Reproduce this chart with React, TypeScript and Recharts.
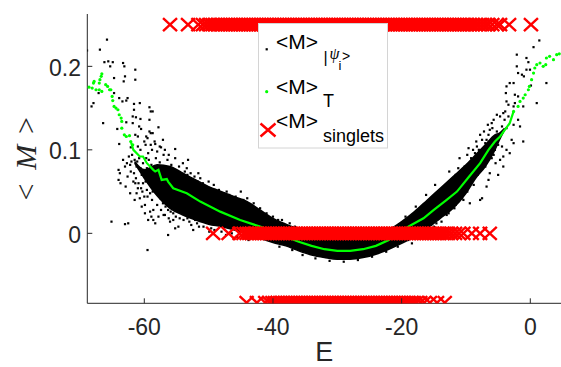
import React from "react";
import { ComposedChart, Area, Scatter, XAxis, YAxis } from "recharts";

// energies of the singlet states, one list per row of crosses
const singletTopE = [
  -56.0, -53.2, -51.6, -50.9, -50.4, -49.9, -49.4, -49.0, -48.6, -48.2, -47.8, -47.4, -47.0,
  -46.6, -46.2, -45.8, -45.4, -45.0, -44.6, -44.2, -43.8, -43.4, -43.0, -42.6, -42.2, -41.8,
  -41.4, -41.0, -40.6, -40.2, -39.8, -39.4, -39.0, -38.6, -38.2, -37.8, -37.4, -37.0, -36.6,
  -36.2, -35.8, -35.4, -35.0, -34.6, -34.2, -33.8, -33.4, -33.0, -32.6, -32.2, -31.8, -31.4,
  -31.0, -30.6, -30.2, -29.8, -29.4, -29.0, -28.6, -28.2, -27.8, -27.4, -27.0, -26.6, -26.2,
  -25.8, -25.4, -25.0, -24.6, -24.2, -23.8, -23.4, -23.0, -22.6, -22.2, -21.8, -21.4, -21.0,
  -20.6, -20.2, -19.8, -19.4, -19.0, -18.6, -18.2, -17.8, -17.4, -17.0, -16.6, -16.2, -15.8,
  -15.4, -15.0, -14.6, -14.2, -13.8, -13.4, -13.0, -12.6, -12.2, -11.8, -11.4, -11.0, -10.6,
  -10.2, -9.8, -9.4, -9.0, -8.5, -8.0, -7.5, -7.0, -6.5, -5.9, -5.2, -4.7, -3.3, 0.1,
];
const singletMidE = [
  -49.3, -46.9, -45.2, -44.6, -44.1, -43.7, -43.3, -42.9, -42.5, -42.1, -41.7, -41.3, -40.9,
  -40.5, -40.1, -39.7, -39.3, -38.9, -38.5, -38.1, -37.7, -37.3, -36.9, -36.5, -36.1, -35.7,
  -35.3, -34.9, -34.5, -34.1, -33.7, -33.3, -32.9, -32.5, -32.1, -31.7, -31.3, -30.9, -30.5,
  -30.1, -29.7, -29.3, -28.9, -28.5, -28.1, -27.7, -27.3, -26.9, -26.5, -26.1, -25.7, -25.3,
  -24.9, -24.5, -24.1, -23.7, -23.3, -22.9, -22.5, -22.1, -21.7, -21.3, -20.9, -20.5, -20.1,
  -19.7, -19.3, -18.9, -18.5, -18.1, -17.7, -17.3, -16.9, -16.5, -16.1, -15.7, -15.3, -14.9,
  -14.5, -14.1, -13.7, -13.3, -12.8, -12.3, -11.7, -11.1, -10.4, -9.1, -7.8, -6.3,
];
const singletLowE = [
  -44.1, -42.5, -41.2, -40.6, -40.1, -39.7, -39.3, -38.9, -38.5, -38.1, -37.7, -37.3, -36.9,
  -36.5, -36.1, -35.7, -35.3, -34.9, -34.5, -34.1, -33.7, -33.3, -32.9, -32.5, -32.1, -31.7,
  -31.3, -30.9, -30.5, -30.1, -29.7, -29.3, -28.9, -28.5, -28.1, -27.7, -27.3, -26.9, -26.5,
  -26.1, -25.7, -25.3, -24.9, -24.5, -24.1, -23.7, -23.3, -22.9, -22.5, -22.1, -21.7, -21.3,
  -20.9, -20.5, -20.1, -19.7, -19.3, -18.9, -18.5, -18.1, -17.7, -17.1, -16.5, -15.6, -14.5, -13.3,
];
const singletM = [0.25, 0, -0.083];

// <M> of single eigenstates, sparse points
const stateDots: [number, number][] = [
  [-68.9, 0.219], [-66.9, 0.22], [-65.8, 0.232], [-66.2, 0.205], [-65.6, 0.206], [-64.9, 0.205],
  [-65.3, 0.2], [-63.3, 0.204], [-63.1, 0.2], [-61.4, 0.196], [-64.7, 0.186], [-63.0, 0.188],
  [-63.2, 0.182], [-61.4, 0.184], [-67.1, 0.168], [-64.7, 0.168], [-67.9, 0.156], [-68.2, 0.152],
  [-63.9, 0.162], [-63.4, 0.158], [-62.8, 0.159], [-62.6, 0.162], [-61.6, 0.155], [-60.7, 0.156],
  [-61.6, 0.148], [-59.2, 0.151], [-59.0, 0.146], [-58.7, 0.146], [-61.8, 0.14], [-61.3, 0.139],
  [-60.6, 0.137], [-59.2, 0.136], [-62.8, 0.133], [-61.8, 0.132], [-66.4, 0.132], [-57.8, 0.127],
  [-64.2, 0.125], [-60.8, 0.128], [-60.5, 0.125], [-59.2, 0.122], [-59.0, 0.12], [-58.7, 0.12],
  [-61.4, 0.118], [-61.0, 0.116], [-59.7, 0.116], [-59.5, 0.114], [-57.1, 0.112], [-63.9, 0.107],
  [-60.0, 0.11], [-59.8, 0.106], [-58.4, 0.11], [-58.3, 0.107], [-59.0, 0.106], [-57.4, 0.103],
  [-55.2, 0.101], [-62.1, 0.103], [-61.0, 0.104],
  [-65.1, 0.014], [-63.0, 0.011], [-62.5, 0.012], [-59.5, -0.02], [-56.3, -0.002], [-64.0, 0.076],
  [-63.8, 0.072], [-64.0, 0.064], [-63.7, 0.06], [-62.2, 0.048], [-63.0, 0.08], [-62.7, 0.084],
  [-62.2, 0.082], [-62.0, 0.086], [-61.7, 0.062], [-61.4, 0.06], [-59.4, 0.016], [-58.6, 0.016],
  [-58.3, 0.012], [-60.4, 0.032], [-59.9, 0.034], [-59.1, 0.026], [-58.6, 0.028], [-57.8, 0.02],
  [-57.0, 0.022], [-56.0, 0.014], [-55.5, 0.016], [-54.7, 0.008], [-55.2, 0.006], [-52.4, 0.004],
  [-53.2, 0.088], [-51.6, 0.072], [-57.6, 0.104], [-56.8, 0.1], [-60.2, 0.06], [-59.6, 0.052],
  [-59.1, 0.048], [-61.2, 0.048], [-60.7, 0.042],
  [-58.2, 0.09], [-57.6, 0.085], [-57.0, 0.094], [-56.4, 0.088], [-55.8, 0.082], [-55.2, 0.09],
  [-54.6, 0.08], [-54.0, 0.084], [-53.4, 0.078], [-52.8, 0.072], [-52.2, 0.068], [-57.8, 0.06],
  [-57.2, 0.052], [-56.6, 0.046], [-56.0, 0.04], [-55.4, 0.036], [-54.8, 0.03], [-54.2, 0.026],
  [-53.6, 0.022], [-59.0, 0.07], [-58.6, 0.064], [-59.6, 0.078], [-60.2, 0.084], [-60.8, 0.09],
  [-61.2, 0.08], [-61.6, 0.072], [-62.6, 0.068], [-60.4, 0.07], [-59.8, 0.062], [-58.8, 0.04],
  [-58.0, 0.034], [-57.4, 0.028], [-56.8, 0.022], [-56.2, 0.018], [-60.0, 0.044], [-61.0, 0.054],
  [-60.6, 0.1], [-59.4, 0.096], [-58.8, 0.1], [-58.0, 0.098], [-56.2, 0.094], [-55.0, 0.074],
  [-53.8, 0.066], [-52.6, 0.06], [-51.4, 0.056], [-50.6, 0.05], [-50.0, 0.062], [-49.2, 0.058],
  [-48.4, 0.052], [-47.6, 0.048], [-46.8, 0.046], [-51.8, 0.012], [-50.8, 0.008], [-49.6, 0.006],
  [-48.0, 0.002], [-46.4, 0.0], [-53.0, 0.014], [-45.0, 0.05], [-44.0, 0.042], [-43.0, 0.036],
  [-42.0, 0.03], [-41.0, 0.024], [-40.0, 0.02], [-38.6, 0.016], [-37.4, 0.012], [-45.6, -0.004],
  [-43.8, -0.008],
  [-62.4, 0.092], [-61.9, 0.094], [-61.5, 0.088], [-61.1, 0.086], [-60.6, 0.078], [-60.1, 0.076],
  [-59.7, 0.09], [-59.3, 0.088], [-58.9, 0.082], [-58.5, 0.078], [-58.1, 0.072], [-57.7, 0.07],
  [-57.3, 0.078], [-56.9, 0.08], [-56.5, 0.074], [-56.1, 0.07], [-55.7, 0.066], [-55.3, 0.062],
  [-54.9, 0.058], [-54.5, 0.064], [-54.1, 0.07], [-53.7, 0.074], [-53.3, 0.07], [-52.9, 0.064],
  [-52.5, 0.052], [-52.1, 0.048], [-51.7, 0.062], [-51.3, 0.066], [-50.9, 0.06], [-50.5, 0.056],
  [-60.3, 0.05], [-59.5, 0.044], [-58.7, 0.05], [-58.3, 0.056], [-57.5, 0.042], [-57.1, 0.036],
  [-56.7, 0.032], [-56.3, 0.028], [-55.9, 0.026], [-55.5, 0.024], [-55.1, 0.02], [-54.5, 0.018],
  [-53.9, 0.016], [-53.3, 0.018], [-52.7, 0.01], [-52.1, 0.016], [-51.5, 0.008], [-49.9, 0.002],
  [-49.1, 0.004], [-47.3, -0.002], [-59.9, 0.024], [-58.9, 0.02], [-61.5, 0.04], [-62.9, 0.056],
  [-63.3, 0.088], [-62.1, 0.074], [-61.3, 0.066], [-60.9, 0.06], [-60.5, 0.054],
  [-49.0, 0.052], [-47.2, 0.05], [-45.8, 0.044], [-44.6, 0.04], [-43.2, 0.032], [-42.4, 0.026],
  [-41.6, 0.022], [-39.2, 0.016], [-36.6, 0.008], [-35.0, 0.004], [-33.0, -0.002], [-31.0, -0.006],
  [-39.0, -0.016], [-37.0, -0.02], [-35.4, -0.026], [-33.4, -0.03], [-31.2, -0.033], [-29.0, -0.034],
  [-26.8, -0.032], [-24.6, -0.028], [-22.4, -0.022], [-20.6, -0.016], [-19.0, -0.008], [-17.4, 0.0],
  [-16.0, 0.004], [-14.6, 0.012], [-13.0, 0.022], [-11.8, 0.03], [-10.4, 0.04], [-14.8, 0.058],
  [-16.2, 0.046], [-17.8, 0.032], [-19.4, 0.02], [-12.6, 0.074], [-11.0, 0.09], [-9.6, 0.102],
  [1.4, 0.231], [0.5, 0.223], [-2.1, 0.214], [-0.6, 0.21], [-0.3, 0.205], [-2.1, 0.2],
  [-1.9, 0.192], [-1.3, 0.19], [-0.6, 0.196], [-0.05, 0.196], [-3.2, 0.18], [-2.6, 0.18],
  [-1.0, 0.188], [2.5, 0.18], [0.1, 0.177], [-3.7, 0.176], [-3.8, 0.168], [-2.4, 0.166],
  [-1.9, 0.164], [1.0, 0.156], [-3.7, 0.158], [-3.4, 0.154], [-2.6, 0.152], [-2.4, 0.156],
  [-1.1, 0.152], [-5.2, 0.142], [-4.7, 0.14], [-4.2, 0.144], [-3.9, 0.146], [-1.9, 0.136],
  [-1.6, 0.128], [-5.7, 0.136], [-6.0, 0.132], [-3.7, 0.126], [-2.6, 0.13], [-6.3, 0.124],
  [-6.5, 0.118], [-5.2, 0.122], [-4.7, 0.118], [-2.9, 0.112], [-2.6, 0.108], [-1.1, 0.11],
  [-3.7, 0.1], [-3.2, 0.096], [-7.5, 0.112], [-7.0, 0.108], [-8.3, 0.104], [-8.9, 0.1],
  [-4.7, 0.088], [-4.2, 0.092], [-11.2, 0.078], [-5.7, 0.094], [-5.5, 0.1], [-6.8, 0.104],
  [-4.2, 0.08], [-6.3, 0.072], [-5.0, 0.07], [-6.8, 0.056], [-7.5, 0.042], [-9.4, 0.036],
  [-12.7, 0.024], [-7.8, 0.04], [-6.5, 0.064],
  [-9.8, 0.094], [-9.2, 0.09], [-8.6, 0.096], [-8.0, 0.1], [-7.6, 0.094], [-7.2, 0.1],
  [-6.8, 0.112], [-6.2, 0.108], [-5.8, 0.104], [-9.6, 0.082], [-10.2, 0.08], [-10.8, 0.074],
  [-11.6, 0.07], [-12.2, 0.064], [-12.8, 0.06], [-13.4, 0.056], [-14.0, 0.05], [-8.2, 0.07],
  [-7.0, 0.08], [-6.0, 0.09], [-5.4, 0.084], [-8.8, 0.058], [-9.8, 0.05], [-10.6, 0.042],
  [-11.6, 0.034], [-13.8, 0.014], [-15.0, 0.008], [-15.8, 0.002], [-17.0, -0.004], [-18.4, -0.012],
  [-8.4, 0.11], [-7.8, 0.118], [-7.2, 0.122], [-6.6, 0.13], [-5.9, 0.126], [-4.4, 0.128],
  [-4.0, 0.136], [-3.4, 0.14], [-5.0, 0.106], [-4.4, 0.104],
];

// where the eigenstate points pile up into a solid black band
const bandE = [-61.5, -60, -58, -56, -54, -52, -50, -48, -46, -44, -42, -40, -38, -36, -34, -32, -30, -28, -26, -24, -22, -20, -18, -16, -14, -12, -10, -8.5, -7, -5.5, -4.8, -4.0];
const bandLo = [0.084, 0.066, 0.045, 0.03, 0.022, 0.016, 0.011, 0.008, 0.004, 0.0, -0.006, -0.011, -0.015, -0.021, -0.026, -0.029, -0.031, -0.031, -0.029, -0.025, -0.019, -0.012, -0.004, 0.006, 0.018, 0.03, 0.048, 0.066, 0.08, 0.1, 0.112, 0.124];
const bandHi = [0.086, 0.076, 0.082, 0.08, 0.072, 0.064, 0.056, 0.05, 0.044, 0.038, 0.028, 0.018, 0.011, 0.005, -0.001, -0.006, -0.008, -0.008, -0.006, -0.002, 0.004, 0.014, 0.026, 0.04, 0.054, 0.068, 0.082, 0.094, 0.106, 0.118, 0.12, 0.126];

// thermal average <M>_T
const thermalLine: [number, number][] = [
  [-62.1, 0.11], [-61.7, 0.1], [-60.7, 0.092], [-60.2, 0.092], [-59.6, 0.084], [-58.6, 0.076],
  [-58.3, 0.074], [-57.8, 0.076], [-57.3, 0.064], [-56.5, 0.065], [-56.3, 0.062], [-55.5, 0.054],
  [-53.4, 0.048], [-51.3, 0.038], [-48.2, 0.026], [-45.1, 0.016], [-42, 0.008], [-40, 0.002],
  [-38, -0.004], [-36, -0.01], [-34, -0.015], [-32, -0.019], [-30, -0.021], [-28, -0.021],
  [-26, -0.019], [-24, -0.015], [-22, -0.008], [-20.3, 0.002], [-18.5, 0.01], [-16.6, 0.018],
  [-15, 0.028], [-13, 0.04], [-11.4, 0.05], [-9.5, 0.068], [-7.8, 0.084], [-6.5, 0.1],
  [-5.5, 0.11], [-4.7, 0.116], [-3.2, 0.132], [-2.6, 0.146],
];
const thermalDots: [number, number][] = [
  [-66.6, 0.191], [-66.7, 0.188], [-66.9, 0.184], [-67.8, 0.182], [-67.9, 0.18], [-67.0, 0.18],
  [-68.6, 0.175], [-68.1, 0.174], [-67.5, 0.172], [-67.0, 0.172], [-66.0, 0.178], [-65.7, 0.176],
  [-65.4, 0.172], [-65.2, 0.172], [-66.6, 0.17], [-65.0, 0.164], [-64.9, 0.159], [-64.7, 0.152],
  [-64.4, 0.15], [-64.1, 0.148], [-63.9, 0.142], [-63.6, 0.138], [-63.5, 0.134], [-63.5, 0.126],
  [-63.1, 0.118], [-62.8, 0.116], [-62.3, 0.117], [-62.1, 0.11], [-61.8, 0.106],
  [-2.6, 0.146], [-1.9, 0.152], [-1.6, 0.158], [-1.1, 0.162], [-0.8, 0.166], [-0.3, 0.172],
  [-0.15, 0.176], [0.2, 0.184], [0.5, 0.192], [0.7, 0.198], [1.0, 0.202], [1.5, 0.204],
  [2.0, 0.2], [2.4, 0.202], [2.5, 0.21], [3.0, 0.212], [3.6, 0.208], [4.1, 0.214], [4.5, 0.215],
];

const xTicks = [-60, -40, -20, 0];
const yTicks = [0, 0.1, 0.2];

const stateData = stateDots.map(([x, y]) => ({ x, y }));
const bandData = bandE.map((x, i) => ({ x, band: [bandLo[i], bandHi[i]] }));
const lineData = thermalLine.map(([x, y]) => ({ x, y }));
const thermalData = thermalDots.map(([x, y]) => ({ x, y }));
const singletData = [
  ...singletTopE.map((x) => ({ x, y: singletM[0] })),
  ...singletMidE.map((x) => ({ x, y: singletM[1] })),
  ...singletLowE.map((x) => ({ x, y: singletM[2] })),
];

const INK = "#262626";
const SANS = "'Liberation Sans', Arial, Helvetica, sans-serif";
const SERIF = "'Liberation Serif', 'Times New Roman', serif";

const XTick = (props: any) => {
  const { x, y, payload } = props;
  return (
    <g>
      <line x1={x} x2={x} y1={y} y2={y - 5} stroke={INK} strokeWidth={1} />
      <text x={x} y={y + 31.7} textAnchor="middle" fontSize={23} fill={INK} fontFamily={SANS}>
        {payload.value}
      </text>
    </g>
  );
};

const YTick = (props: any) => {
  const { x, y, payload } = props;
  return (
    <g>
      <line x1={x} x2={x + 5} y1={y} y2={y} stroke={INK} strokeWidth={1} />
      <text x={x - 6.3} y={y + 9.5} textAnchor="end" fontSize={23} fill={INK} fontFamily={SANS}>
        {payload.value}
      </text>
    </g>
  );
};

const dot = (p: any) => <rect x={p.cx - 1.1} y={p.cy - 1.1} width={2.2} height={2.2} fill="#000" />;
const greenDot = (p: any) => <circle cx={p.cx} cy={p.cy} r={1.6} fill="#00ff00" />;
const noDot = () => <g />;
const cross = (p: any) => (
  <path
    d={`M${p.cx - 7},${p.cy - 6.5}L${p.cx + 7},${p.cy + 6.5}M${p.cx - 7},${p.cy + 6.5}L${p.cx + 7},${p.cy - 6.5}`}
    stroke="#ff0000"
    strokeWidth={2.4}
    fill="none"
  />
);

const yLabel = (p: any) => {
  const vb = p.viewBox || { x: 0, y: 14, width: 87, height: 289 };
  const cx = vb.x + 26;
  const cy = vb.y + vb.height / 2;
  return (
    <g transform={`translate(${cx},${cy}) rotate(-90)`} fill={INK} fontFamily={SERIF} fontSize={30}>
      <text x={-33.5} y={10} textAnchor="middle">&lt;</text>
      <text x={1.5} y={10} textAnchor="middle" fontStyle="italic">M</text>
      <text x={33.2} y={10} textAnchor="middle">&gt;</text>
    </g>
  );
};

const xLabel = (p: any) => {
  const vb = p.viewBox || { x: 87, y: 303, width: 474, height: 40 };
  return (
    <text x={vb.x + vb.width / 2} y={vb.y + 58} textAnchor="middle" fontSize={27} fill={INK} fontFamily={SANS}>
      E
    </text>
  );
};

function LegendBox() {
  return (
    <svg width={561} height={367} style={{ position: "absolute", left: 0, top: 0, pointerEvents: "none" }}>
      <rect x={258.5} y={23.5} width={129} height={124.5} fill="#fff" stroke="#d4d4d4" strokeWidth={1} />
      <rect x={265.6} y={48.2} width={2.2} height={2.2} fill="#000" />
      <circle cx={266.7} cy={91.7} r={1.6} fill="#00ff00" />
      <path d="M260.5,123.5L275.5,136.5M260.5,136.5L275.5,123.5" stroke="#ff0000" strokeWidth={2.4} fill="none" />
      <g fill="#000" fontFamily={SANS}>
        <text x={276} y={49} fontSize={21}>&lt;M&gt;</text>
        <text x={323.5} y={63} fontSize={16}>|</text>
        <text x={329.5} y={59} fontSize={16} fontFamily={SERIF} fontStyle="italic">ψ</text>
        <text x={338.5} y={70} fontSize={13}>i</text>
        <text x={342} y={61} fontSize={14}>&gt;</text>
        <text x={276} y={94} fontSize={21}>&lt;M&gt;</text>
        <text x={323} y={107} fontSize={18}>T</text>
        <text x={276} y={128} fontSize={21}>&lt;M&gt;</text>
        <text x={323} y={142} fontSize={18}>singlets</text>
      </g>
    </svg>
  );
}

export default function App() {
  return (
    <div style={{ position: "absolute", left: 0, top: 0, width: 561, height: 367, background: "#fff" }}>
      <ComposedChart width={561} height={367} margin={{ top: 14, right: 0, bottom: 23.7, left: 0 }}>
        <XAxis
          type="number"
          dataKey="x"
          domain={[-68.86, 4.77]}
          allowDataOverflow
          ticks={xTicks}
          tickSize={0}
          tickMargin={0}
          tickLine={false}
          height={40}
          axisLine={{ stroke: INK, strokeWidth: 1 }}
          tick={<XTick />}
          label={{ content: xLabel }}
        />
        <YAxis
          type="number"
          dataKey="y"
          domain={[-0.0838, 0.2627]}
          allowDataOverflow
          ticks={yTicks}
          tickSize={0}
          tickMargin={0}
          tickLine={false}
          width={87.3}
          axisLine={{ stroke: INK, strokeWidth: 1 }}
          tick={<YTick />}
          label={{ content: yLabel }}
        />
        <Area data={bandData} dataKey="band" type="monotone" fill="#000" fillOpacity={1} stroke="#000" strokeWidth={1.5} isAnimationActive={false} dot={false} activeDot={false} />
        <Scatter data={stateData} dataKey="y" shape={dot} isAnimationActive={false} />
        <Scatter data={thermalData} dataKey="y" shape={greenDot} isAnimationActive={false} />
        <Scatter data={lineData} dataKey="y" shape={noDot} line={{ stroke: "#00ff00", strokeWidth: 2.2 }} isAnimationActive={false} />
        <Scatter data={singletData} dataKey="y" shape={cross} isAnimationActive={false} />
      </ComposedChart>
      <LegendBox />
    </div>
  );
}
